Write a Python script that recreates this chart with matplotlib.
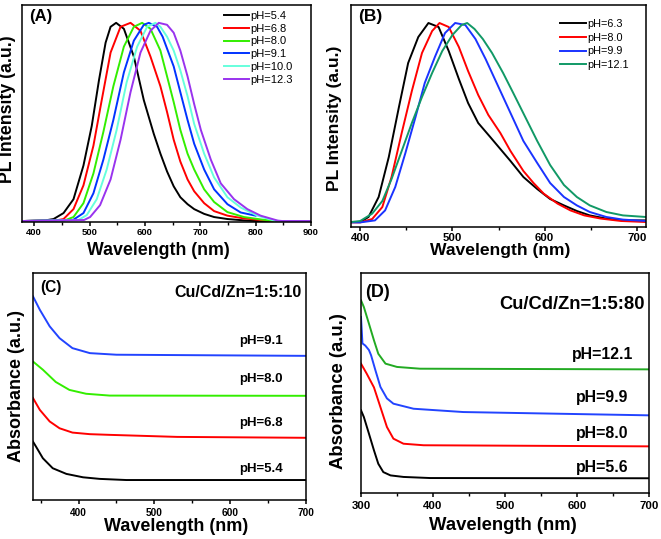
import matplotlib
matplotlib.use("Agg")
import matplotlib.pyplot as plt
from matplotlib.ticker import MultipleLocator

plt.rcParams['font.family'] = ['Liberation Sans', 'DejaVu Sans']

# ---------------- Panel A: PL spectra ----------------
a_labels = ["pH=5.4", "pH=6.8", "pH=8.0", "pH=9.1", "pH=10.0", "pH=12.3"]
a_colors = ["#000000", "#ff0000", "#33ee00", "#0033ff", "#66ffdd", "#9933ee"]
a_wl_black = [380, 420, 435, 453, 471, 489, 504, 517, 529, 538, 548, 562, 580, 598, 616, 628, 640, 652, 664, 677, 689, 707, 725, 749, 779, 800, 900]
a_I_black = [0, 0.003, 0.01, 0.04, 0.11, 0.28, 0.48, 0.71, 0.90, 0.98, 1.0, 0.97, 0.83, 0.61, 0.44, 0.34, 0.25, 0.175, 0.12, 0.085, 0.06, 0.036, 0.02, 0.01, 0.003, 0.0, 0.0]
a_wl_red = [380, 440, 453, 471, 489, 507, 522, 538, 556, 574, 592, 610, 628, 640, 652, 664, 677, 689, 707, 725, 749, 779, 809, 830]
a_I_red = [0, 0.003, 0.01, 0.06, 0.18, 0.38, 0.61, 0.85, 0.98, 1.0, 0.96, 0.83, 0.68, 0.55, 0.41, 0.30, 0.21, 0.15, 0.09, 0.05, 0.027, 0.013, 0.005, 0.0]
a_wl_green = [380, 455, 471, 489, 507, 525, 543, 562, 580, 595, 610, 628, 640, 652, 664, 677, 689, 707, 725, 749, 779, 809, 834]
a_I_green = [0, 0.003, 0.02, 0.09, 0.24, 0.45, 0.68, 0.88, 0.98, 1.0, 0.97, 0.86, 0.73, 0.60, 0.46, 0.34, 0.26, 0.16, 0.096, 0.045, 0.02, 0.008, 0.0]
a_wl_blue = [380, 470, 489, 507, 525, 543, 562, 580, 598, 607, 622, 632, 640, 652, 664, 677, 689, 707, 725, 749, 773, 800]
a_I_blue = [0, 0.005, 0.04, 0.14, 0.31, 0.51, 0.75, 0.91, 0.99, 1.0, 0.98, 0.93, 0.87, 0.78, 0.65, 0.51, 0.39, 0.26, 0.16, 0.085, 0.043, 0.027]
a_wl_cyan = [380, 480, 495, 513, 531, 549, 567, 586, 604, 619, 628, 640, 652, 664, 677, 689, 707, 725, 749, 773, 803, 834, 845, 900]
a_I_cyan = [0, 0.005, 0.03, 0.11, 0.26, 0.46, 0.70, 0.88, 0.98, 1.0, 0.98, 0.93, 0.86, 0.76, 0.63, 0.49, 0.34, 0.22, 0.12, 0.068, 0.027, 0.002, 0.0, 0.0]
a_wl_purple = [380, 490, 501, 519, 538, 556, 574, 592, 610, 625, 640, 652, 664, 677, 689, 701, 719, 737, 761, 785, 809, 840, 848, 900]
a_I_purple = [0, 0.005, 0.02, 0.08, 0.21, 0.41, 0.65, 0.85, 0.96, 1.0, 0.99, 0.95, 0.86, 0.73, 0.59, 0.46, 0.31, 0.19, 0.11, 0.06, 0.027, 0.002, 0.0, 0.0]
a_wl = [a_wl_black, a_wl_red, a_wl_green, a_wl_blue, a_wl_cyan, a_wl_purple]
a_I = [a_I_black, a_I_red, a_I_green, a_I_blue, a_I_cyan, a_I_purple]
a_xticks = [400, 500, 600, 700, 800, 900]

# ---------------- Panel B: PL spectra ----------------
b_labels = ["pH=6.3", "pH=8.0", "pH=9.9", "pH=12.1"]
b_colors = ["#000000", "#ff0000", "#1a33ff", "#119966"]
b_wl_black = [390, 400, 409, 420, 431, 442, 452, 463, 474, 485, 496, 507, 517, 528, 541, 552, 563, 577, 592, 606, 621, 635, 649, 667, 685, 710]
b_I_black = [0.005, 0.005, 0.03, 0.13, 0.33, 0.58, 0.80, 0.93, 1.0, 0.98, 0.86, 0.72, 0.60, 0.50, 0.43, 0.37, 0.31, 0.23, 0.17, 0.12, 0.088, 0.06, 0.038, 0.022, 0.013, 0.013]
b_wl_red = [390, 400, 413, 424, 434, 445, 456, 467, 478, 486, 496, 507, 517, 528, 539, 552, 563, 577, 588, 599, 614, 628, 643, 661, 683, 710]
b_I_red = [0.003, 0.003, 0.02, 0.08, 0.23, 0.45, 0.66, 0.85, 0.96, 1.0, 0.98, 0.88, 0.76, 0.64, 0.54, 0.45, 0.36, 0.26, 0.20, 0.147, 0.097, 0.063, 0.038, 0.022, 0.01, 0.005]
b_wl_blue = [390, 400, 416, 427, 438, 449, 460, 470, 481, 492, 503, 514, 525, 536, 546, 552, 563, 577, 592, 606, 621, 635, 649, 667, 685, 710]
b_I_blue = [0.003, 0.003, 0.013, 0.063, 0.18, 0.35, 0.53, 0.70, 0.83, 0.95, 1.0, 0.99, 0.92, 0.82, 0.72, 0.66, 0.55, 0.41, 0.30, 0.20, 0.13, 0.088, 0.055, 0.03, 0.017, 0.01]
b_wl_green = [390, 400, 413, 424, 434, 445, 456, 467, 478, 489, 500, 510, 516, 524, 533, 543, 555, 566, 579, 592, 606, 621, 635, 649, 667, 685, 710]
b_I_green = [0.005, 0.01, 0.047, 0.11, 0.22, 0.36, 0.50, 0.63, 0.75, 0.86, 0.94, 0.99, 1.0, 0.97, 0.92, 0.85, 0.75, 0.65, 0.53, 0.41, 0.29, 0.19, 0.13, 0.088, 0.055, 0.038, 0.03]
b_wl = [b_wl_black, b_wl_red, b_wl_blue, b_wl_green]
b_I = [b_I_black, b_I_red, b_I_blue, b_I_green]
b_xticks = [400, 500, 600, 700]

# ---------------- Panel C: absorbance ----------------
c_labels = ["pH=5.4", "pH=6.8", "pH=8.0", "pH=9.1"]
c_colors = ["#000000", "#ff0000", "#33ee00", "#2244ff"]
c_wl_black = [340, 344, 353, 366, 384, 406, 428, 463, 700]
c_A_black = [0.257, 0.235, 0.184, 0.14, 0.115, 0.10, 0.093, 0.088, 0.088]
c_wl_red = [340, 349, 362, 375, 392, 415, 441, 530, 700]
c_A_red = [0.449, 0.397, 0.346, 0.316, 0.297, 0.29, 0.287, 0.278, 0.274]
c_wl_green = [340, 353, 370, 388, 410, 441, 700]
c_A_green = [0.61, 0.574, 0.52, 0.485, 0.468, 0.46, 0.459]
c_wl_blue = [340, 349, 362, 375, 392, 415, 450, 700]
c_A_blue = [0.897, 0.838, 0.765, 0.713, 0.669, 0.647, 0.64, 0.635]
c_wl = [c_wl_black, c_wl_red, c_wl_green, c_wl_blue]
c_A = [c_A_black, c_A_red, c_A_green, c_A_blue]
c_label_y = [0.137, 0.341, 0.534, 0.70]
c_xticks = [400, 500, 600, 700]

# ---------------- Panel D: absorbance ----------------
d_labels = ["pH=5.6", "pH=8.0", "pH=9.9", "pH=12.1"]
d_colors = ["#000000", "#ff0000", "#2244ff", "#22aa22"]
d_wl_black = [300, 304, 311, 318, 324, 331, 341, 359, 396, 700]
d_A_black = [0.376, 0.345, 0.27, 0.194, 0.133, 0.095, 0.08, 0.073, 0.068, 0.067]
d_wl_red = [300, 308, 318, 327, 336, 345, 359, 387, 700]
d_A_red = [0.588, 0.542, 0.48, 0.39, 0.30, 0.247, 0.224, 0.217, 0.212]
d_wl_blue = [300, 302, 306, 311, 314, 320, 327, 336, 345, 373, 442, 700]
d_A_blue = [0.80, 0.68, 0.67, 0.65, 0.626, 0.558, 0.482, 0.43, 0.406, 0.383, 0.368, 0.353]
d_wl_green = [300, 304, 311, 318, 324, 334, 350, 382, 700]
d_A_green = [0.876, 0.845, 0.77, 0.694, 0.633, 0.588, 0.573, 0.565, 0.562]
d_wl = [d_wl_black, d_wl_red, d_wl_blue, d_wl_green]
d_A = [d_A_black, d_A_red, d_A_blue, d_A_green]
d_label_y = [0.118, 0.27, 0.433, 0.63]
d_xticks = [300, 400, 500, 600, 700]

W, H = 661, 539
fig = plt.figure(figsize=(W / 100, H / 100), dpi=100)


def make_ax(l, r, t, b):
    return fig.add_axes([l / W, 1 - b / H, (r - l) / W, (b - t) / H])


def style(ax, xlim, ylim, xticks, minor, tsize, pad, ylab, xlab_xy, ylab_xy, lsize):
    ax.set_xlim(*xlim)
    ax.set_ylim(*ylim)
    ax.set_xticks(xticks)
    ax.xaxis.set_minor_locator(MultipleLocator(minor))
    ax.set_yticks([])
    ax.tick_params(axis='x', which='major', direction='out', length=3, width=1.1,
                   pad=pad, labelsize=tsize, top=False)
    ax.tick_params(axis='x', which='minor', direction='out', length=2, width=1.0, top=False)
    for lab in ax.get_xticklabels():
        lab.set_fontweight('bold')
    for s in ax.spines.values():
        s.set_linewidth(1.1)
    ax.set_xlabel("Wavelength (nm)", fontsize=lsize, fontweight='bold')
    ax.set_ylabel(ylab, fontsize=lsize, fontweight='bold')
    ax.xaxis.set_label_coords(*xlab_xy)
    ax.yaxis.set_label_coords(*ylab_xy)


# Panel A
axA = make_ax(22, 311, 5, 222)
for wl, I, c, lab in zip(a_wl, a_I, a_colors, a_labels):
    axA.plot(wl, I, color=c, lw=1.4, label=lab)
style(axA, (378, 900), (-0.005, 1.09), a_xticks, 50, 6.8, 1.5,
      "PL Intensity (a.u.)", (0.473, -0.09), (-0.02, 0.52), 12.8)
axA.text(0.024, 0.945, "(A)", transform=axA.transAxes, fontsize=12, fontweight='bold', va='center')
axA.legend(loc='upper left', bbox_to_anchor=(0.70, 0.973), frameon=False, fontsize=8.0,
           handlelength=2.2, handletextpad=0.15, labelspacing=0.25, borderpad=0, borderaxespad=0)

# Panel B
axB = make_ax(351, 646, 5, 227)
for wl, I, c, lab in zip(b_wl, b_I, b_colors, b_labels):
    axB.plot(wl, I, color=c, lw=1.4, label=lab)
style(axB, (390, 710), (-0.02, 1.09), b_xticks, 50, 8.2, 1.0,
      "PL Intensity (a.u.)", (0.505, -0.07), (-0.03, 0.49), 12.6)
axB.text(0.024, 0.946, "(B)", transform=axB.transAxes, fontsize=12.5, fontweight='bold', va='center')
axB.legend(loc='upper left', bbox_to_anchor=(0.708, 0.936), frameon=False, fontsize=7.8,
           handlelength=2.4, handletextpad=0.15, labelspacing=0.33, borderpad=0, borderaxespad=0)

# Panel C
axC = make_ax(33, 306, 273, 500)
for wl, A, c in zip(c_wl, c_A, c_colors):
    axC.plot(wl, A, color=c, lw=1.4)
for lab, y in zip(c_labels, c_label_y):
    axC.text(641, y, lab, fontsize=9.5, fontweight='bold', ha='center', va='center')
style(axC, (340, 700), (0, 1), c_xticks, 50, 7.3, 3.0,
      "Absorbance (a.u.)", (0.526, -0.078), (-0.03, 0.503), 13)
axC.text(0.026, 0.938, "(C)", transform=axC.transAxes, fontsize=11.2, fontweight='bold', va='center')
axC.text(0.985, 0.913, "Cu/Cd/Zn=1:5:10", transform=axC.transAxes, fontsize=11.5,
         fontweight='bold', ha='right', va='center')

# Panel D
axD = make_ax(361, 649, 273, 493)
for wl, A, c in zip(d_wl, d_A, d_colors):
    axD.plot(wl, A, color=c, lw=1.4)
for lab, y in zip(d_labels, d_label_y):
    axD.text(635, y, lab, fontsize=11.4, fontweight='bold', ha='center', va='center')
style(axD, (300, 700), (0, 1), d_xticks, 50, 8.2, 3.0,
      "Absorbance (a.u.)", (0.494, -0.11), (-0.05, 0.465), 13.3)
axD.text(0.014, 0.91, "(D)", transform=axD.transAxes, fontsize=13, fontweight='bold', va='center')
axD.text(0.986, 0.855, "Cu/Cd/Zn=1:5:80", transform=axD.transAxes, fontsize=13.2,
         fontweight='bold', ha='right', va='center')

fig.savefig("out.png", dpi=100)
